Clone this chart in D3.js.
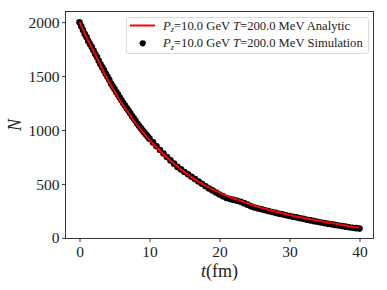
<!DOCTYPE html>
<html>
<head>
<meta charset="utf-8">
<script src="https://cdn.jsdelivr.net/npm/d3@7"></script>
<style>
  body { margin: 0; background: #fff; }
  svg { display: block; }
  text { font-family: "Liberation Serif", "DejaVu Serif", serif; fill: #222; }
</style>
</head>
<body>
<div id="chart"></div>
<script>
// Analytic curve, read at integer t
const anaT = [0,1,2,3,4,5,6,7,8,9,10,11,12,13,14,15,16,17,18,19,20,
  21,22,23,24,25,26,27,28,29,30,31,32,33,34,35,36,37,38,39,40];
const anaN = [2000,1860,1735,1600,1470,1360,1250,1160,1065,985,910,840,775,715,660,610,565,520,485,450,420,
  392,365,345,320,298,278,260,245,228,212,198,185,172,160,148,137,126,115,104,94];

// Simulation points (dense scatter)
const simT = [0,0.25,0.5,0.75,1,1.25,1.5,1.75,2,2.25,2.5,2.75,3,3.25,3.5,3.75,4,4.25,4.5,4.75,
  5,5.25,5.5,5.75,6,6.25,6.5,6.75,7,7.25,7.5,7.75,8,8.25,8.5,8.75,9,9.25,9.5,9.75,
  10,10.5,11,11.5,12,12.5,13,13.5,14,14.5,15,15.5,16,16.5,17,17.5,18,18.5,19,19.5,
  20,20.5,21,21.5,22,22.5,23,23.5,24,24.5,25,25.5,26,26.5,27,27.5,28,28.5,29,29.5,
  30,30.5,31,31.5,32,32.5,33,33.5,34,34.5,35,35.5,36,36.5,37,37.5,38,38.5,39,39.5,40];
const simN = [2000,1962,1928,1890,1862,1826,1798,1770,1738,1705,1676,1642,1610,1582,1553,1522,1494,1466,1432,1405,
  1381,1352,1330,1302,1275,1250,1228,1202,1180,1155,1130,1108,1085,1060,1040,1018,998,978,958,940,
  920,885,850,815,782,750,718,688,658,635,610,590,566,545,522,502,478,458,440,420,
  402,385,370,360,352,344,335,322,308,292,282,272,265,256,248,240,232,224,218,210,
  203,196,190,182,176,168,162,155,150,143,137,130,125,120,114,109,104,99,94,90,86];

const xTicks = [0, 10, 20, 30, 40];
const yTicks = [0, 500, 1000, 1500, 2000];
const legendLabels = ["Analytic", "Simulation"];

const width = 387, height = 290;
const plot = { left: 65.5, right: 373.5, top: 11.5, bottom: 238.5 };

const svg = d3.select('#chart').append('svg')
  .attr('width', width)
  .attr('height', height);

const x = d3.scaleLinear().domain([-2, 42]).range([plot.left, plot.right]);
const y = d3.scaleLinear().domain([-6, 2099]).range([plot.bottom, plot.top]);

// Axes
const xAxis = svg.append('g')
  .attr('transform', 'translate(0,' + plot.bottom + ')')
  .call(d3.axisBottom(x).tickValues(xTicks).tickFormat(d3.format('d'))
    .tickSize(3.5).tickPadding(3).tickSizeOuter(0));
const yAxis = svg.append('g')
  .attr('transform', 'translate(' + plot.left + ',0)')
  .call(d3.axisLeft(y).tickValues(yTicks).tickFormat(d3.format('d'))
    .tickSize(3.5).tickPadding(2.5).tickSizeOuter(0));

[xAxis, yAxis].forEach(a => {
  a.select('.domain').remove();
  a.selectAll('line').attr('stroke', '#222').attr('stroke-width', 0.9);
  a.selectAll('text').style('font-size', '15.5px').attr('fill', '#222');
});
yAxis.selectAll('text').attr('dy', '0.33em');
xAxis.selectAll('text').attr('dy', '0.75em');

// Simulation scatter
const sim = simT.map((t, i) => ({ t: t, n: simN[i] }));
svg.append('g').selectAll('circle')
  .data(sim)
  .enter().append('circle')
    .attr('cx', d => x(d.t))
    .attr('cy', d => y(d.n))
    .attr('r', 3.3)
    .attr('fill', '#000');

// Analytic line
const ana = anaT.map((t, i) => ({ t: t, n: anaN[i] }));
svg.append('path')
  .datum(ana)
  .attr('fill', 'none')
  .attr('stroke', '#ff0000')
  .attr('stroke-width', 2)
  .attr('d', d3.line().x(d => x(d.t)).y(d => y(d.n)).curve(d3.curveMonotoneX));

// Frame
svg.append('rect')
  .attr('x', plot.left).attr('y', plot.top)
  .attr('width', plot.right - plot.left).attr('height', plot.bottom - plot.top)
  .attr('fill', 'none').attr('stroke', '#222').attr('stroke-width', 0.9);

// Axis labels
svg.append('text')
  .attr('x', (plot.left + plot.right) / 2)
  .attr('y', 277)
  .attr('text-anchor', 'middle')
  .style('font-size', '18px')
  .call(t => {
    t.append('tspan').style('font-style', 'italic').text('t');
    t.append('tspan').text('(fm)');
  });
svg.append('text')
  .attr('transform', 'translate(21,' + ((plot.top + plot.bottom) / 2) + ') rotate(-90)')
  .attr('text-anchor', 'middle')
  .style('font-size', '18px')
  .style('font-style', 'italic')
  .text('N');

// Legend
const lg = svg.append('g');
lg.append('rect')
  .attr('x', 126.5).attr('y', 17.5)
  .attr('width', 242).attr('height', 36)
  .attr('rx', 2.5)
  .attr('fill', '#fff').attr('fill-opacity', 0.8)
  .attr('stroke', '#d6d6d6').attr('stroke-width', 0.9);
lg.append('line')
  .attr('x1', 130).attr('x2', 155).attr('y1', 25.5).attr('y2', 25.5)
  .attr('stroke', '#ff0000').attr('stroke-width', 2);
lg.append('circle')
  .attr('cx', 142.7).attr('cy', 43.3).attr('r', 3.1).attr('fill', '#000');

legendLabels.forEach((lab, i) => {
  const t = lg.append('text')
    .attr('x', 163)
    .attr('y', 29.5 + i * 17.5)
    .style('font-size', '12.6px');
  t.append('tspan').style('font-style', 'italic').text('P');
  t.append('tspan').attr('dy', 2.5).style('font-size', '8.5px').style('font-style', 'italic').text('z');
  t.append('tspan').attr('dy', -2.5).text('=10.0 GeV ');
  t.append('tspan').style('font-style', 'italic').text('T');
  t.append('tspan').text('=200.0 MeV ' + lab);
});
</script>
</body>
</html>
